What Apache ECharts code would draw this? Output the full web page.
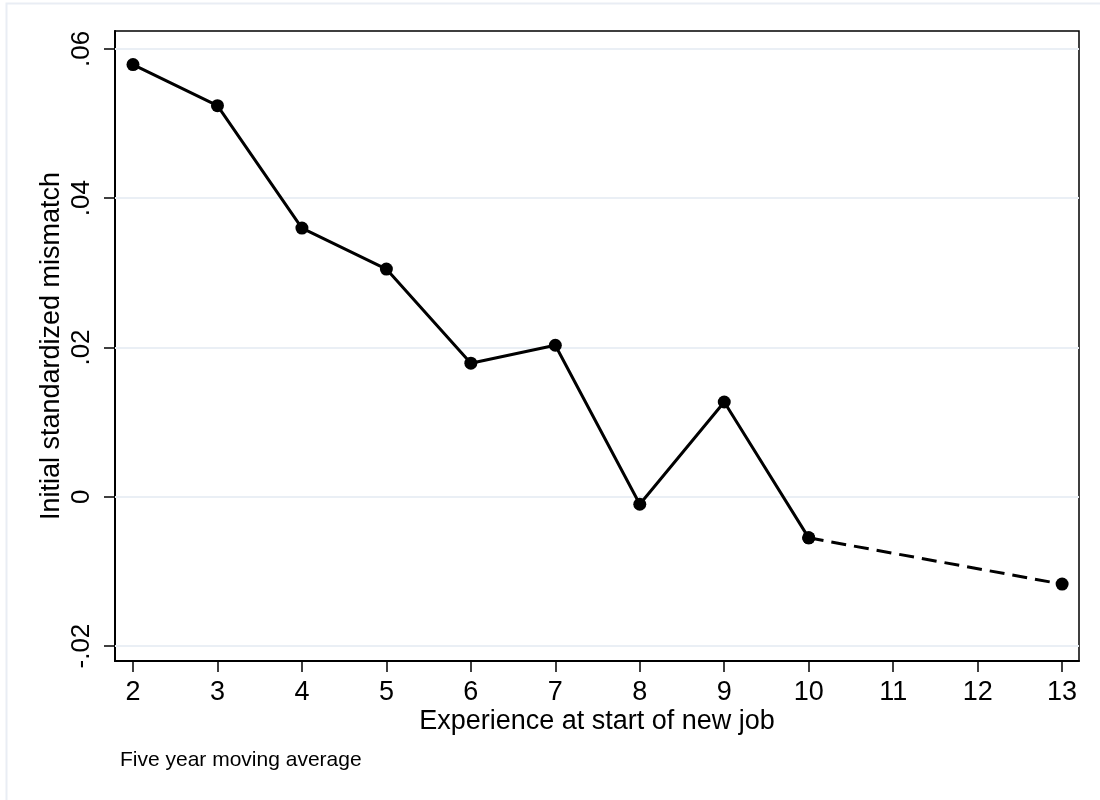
<!DOCTYPE html>
<html>
<head>
<meta charset="utf-8">
<script src="https://cdn.jsdelivr.net/npm/echarts@6/dist/echarts.min.js"></script>
<style>
  html, body { margin: 0; padding: 0; background: #ffffff; }
  #chart { width: 1100px; height: 800px; }
</style>
</head>
<body>
<div id="chart"></div>
<script>
// Experience (years) at start of new job and the initial standardized mismatch
const experience = [2, 3, 4, 5, 6, 7, 8, 9, 10];
const mismatch = [0.0579, 0.0524, 0.0360, 0.0305, 0.0179, 0.0203, -0.0010, 0.0127, -0.0055];
// Last observed group, joined by a dashed segment
const tailExperience = [10, 13];
const tailMismatch = [-0.0055, -0.0117];
// Axis ticks
const xTicks = [2, 3, 4, 5, 6, 7, 8, 9, 10, 11, 12, 13];
const yTicks = [-0.02, 0, 0.02, 0.04, 0.06];

const FONT = '"Liberation Sans", Arial, sans-serif';

function fmtY(v) {
  const r = Math.round(v * 100) / 100;
  if (r === 0) return '0';
  return (r < 0 ? '-' : '') + Math.abs(r).toFixed(2).replace(/^0/, '');
}

const chart = echarts.init(document.getElementById('chart'), null, { renderer: 'canvas' });

const option = {
  backgroundColor: '#ffffff',
  animation: false,
  textStyle: { fontFamily: FONT },
  grid: {
    left: 115, right: 21, top: 31, bottom: 139,
    show: true, borderColor: '#000000', borderWidth: 1.5,
    containLabel: false
  },
  graphic: [
    {
      type: 'rect',
      shape: { x: 6.5, y: 3.5, width: 1100, height: 800 },
      style: { fill: 'none', stroke: '#e9edf4', lineWidth: 2 },
      silent: true, z: -10
    },
    {
      type: 'text',
      left: 120, top: 750,
      style: { text: 'Five year moving average', fontSize: 21, fontFamily: FONT, fill: '#000000' }
    }
  ],
  xAxis: {
    type: 'value',
    min: 1.787, max: 13.2,
    name: 'Experience at start of new job',
    nameLocation: 'middle',
    nameGap: 47,
    nameMoveOverlap: false,
    nameTextStyle: { fontSize: 27, color: '#000000', fontFamily: FONT },
    axisLine: { show: true, onZero: false, lineStyle: { color: '#000000', width: 2 } },
    axisTick: { show: true, length: 11, customValues: xTicks, lineStyle: { color: '#000000', width: 1.5 } },
    axisLabel: { customValues: xTicks, fontSize: 27, color: '#000000', margin: 18, fontFamily: FONT },
    splitLine: { show: false }
  },
  yAxis: {
    type: 'value',
    min: -0.0220, max: 0.0624,
    name: 'Initial standardized mismatch',
    nameLocation: 'middle',
    nameRotate: 90,
    nameGap: 50,
    nameMoveOverlap: false,
    nameTextStyle: { fontSize: 27, color: '#000000', fontFamily: FONT },
    axisLine: { show: true, onZero: false, lineStyle: { color: '#000000', width: 2 } },
    axisTick: { show: true, length: 11, customValues: yTicks, lineStyle: { color: '#000000', width: 1.5 } },
    axisLabel: {
      customValues: yTicks, rotate: 90, fontSize: 26, color: '#000000',
      margin: 20, fontFamily: FONT, formatter: fmtY
    },
    splitLine: { show: false }
  },
  series: [
    {
      type: 'line',
      data: experience.map((x, i) => [x, mismatch[i]]),
      symbol: 'circle',
      symbolSize: 13,
      itemStyle: { color: '#000000' },
      lineStyle: { color: '#000000', width: 3 },
      z: 5,
      markLine: {
        silent: true,
        symbol: ['none', 'none'],
        label: { show: false },
        lineStyle: { color: '#eaeff5', width: 2, type: 'solid' },
        data: yTicks.map(v => ({ yAxis: v })),
        z: 1
      }
    },
    {
      type: 'line',
      data: tailExperience.map((x, i) => [x, tailMismatch[i]]),
      symbol: 'circle',
      symbolSize: 13,
      itemStyle: { color: '#000000' },
      lineStyle: { color: '#000000', width: 3, type: [15, 8] },
      z: 4
    }
  ]
};

chart.setOption(option);
</script>
</body>
</html>
